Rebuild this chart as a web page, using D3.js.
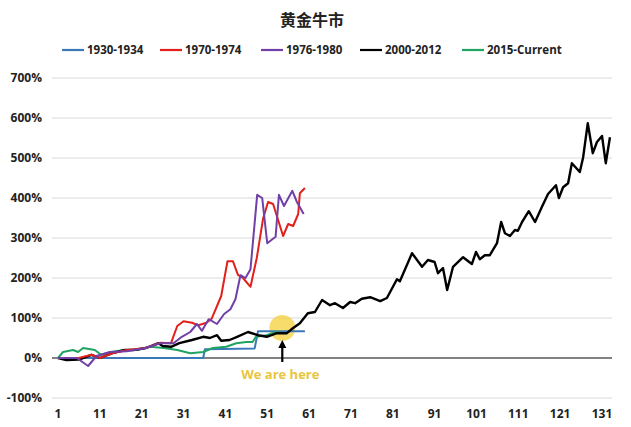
<!DOCTYPE html>
<html><head><meta charset="utf-8">
<script src="https://cdn.jsdelivr.net/npm/d3@7"></script>
<style>body{margin:0;background:#fff}svg{font-family:"Open Sans","Liberation Sans",sans-serif}</style>
</head><body><div id="chart"></div>
<script>
// data: x = month index, y = gain in %
const seriesNames = ["1930-1934", "1970-1974", "1976-1980", "2000-2012", "2015-Current"];
const seriesColors = ["#3b78b8", "#e3201b", "#7040a8", "#000000", "#1fa463"];

const blueX = [1, 35.7, 36.1, 48, 48.8, 60];
const blueY = [0, 0, 22, 24, 67, 67];

const redX = [1, 6, 9, 11, 14, 17.5, 22, 25.5, 28, 29.5, 31, 33, 34.5, 36.5, 37.7, 39, 40, 41.5, 42.8, 44, 45.2, 47, 48.5, 50, 51.2, 52.4, 54.8, 56, 57.2, 58.4, 58.8, 60];
const redY = [0, 0, 8, 0, 12, 20, 25, 38, 37, 80, 92, 88, 82, 88, 98, 130, 155, 242, 242, 208, 200, 178, 250, 348, 390, 385, 305, 335, 330, 360, 412, 425];

const purpleX = [1, 5.5, 8.2, 10.2, 13.4, 17.4, 22, 25.4, 28.6, 30.6, 32.6, 34.2, 35.4, 37, 39, 40.7, 42.2, 43.4, 44.6, 45.8, 47, 48.6, 49.8, 51, 53, 53.8, 55, 57, 58.1, 59.7];
const purpleY = [0, 0, -20, 5, 15, 17, 25, 37, 37, 53, 65, 85, 68, 97, 85, 110, 122, 147, 207, 200, 222, 408, 400, 287, 303, 408, 380, 418, 390, 360];

const blackX = [1, 3, 6, 9, 11, 14, 17, 19, 22, 25, 26, 28, 30, 33, 35.7, 37.3, 39, 40, 42, 43.8, 46.4, 48.8, 50.9, 53.3, 55.7, 57.2, 58.8, 60.7, 62.4, 64.1, 66, 67.2, 69.1, 70.8, 72, 73.6, 75.6, 78, 79.6, 82, 82.7, 85.6, 88, 89.4, 91, 91.8, 93, 94, 95.4, 97.8, 99.9, 100.9, 101.8, 103, 104.2, 105.9, 106.9, 107.8, 109, 110.2, 110.9, 111.9, 113.5, 115, 116.6, 118.1, 120, 120.7, 121.7, 122.9, 123.8, 125.7, 126.5, 127.6, 128.8, 129.8, 131, 131.9, 132.9];
const blackY = [0, -5, -4, 8, 0, 12, 20, 20, 25, 37, 30, 28, 37, 45, 53, 50, 57, 43, 45, 53, 65, 57, 53, 62, 62, 75, 87, 112, 115, 145, 132, 137, 125, 140, 137, 148, 152, 142, 150, 197, 192, 262, 228, 245, 240, 212, 225, 170, 228, 252, 235, 265, 247, 257, 257, 287, 340, 312, 305, 320, 318, 340, 367, 340, 377, 410, 432, 400, 427, 437, 487, 465, 502, 587, 512, 540, 555, 487, 552];

const greenX = [1, 2.2, 4.6, 5.8, 7, 9.8, 11.3, 13.7, 16.8, 20, 23, 26.3, 29.5, 32.6, 35.7, 38, 41.2, 43.6, 46, 47.5, 48.3, 50.8, 53.2, 55];
const greenY = [0, 15, 20, 15, 25, 20, 8, 15, 20, 20, 28, 25, 20, 12, 15, 25, 28, 37, 40, 40, 53, 57, 65, 62];

const yTicks = [-100, 0, 100, 200, 300, 400, 500, 600, 700];
const xTicks = [1, 11, 21, 31, 41, 51, 61, 71, 81, 91, 101, 111, 121, 131];

const allX = [blueX, redX, purpleX, blackX, greenX];
const allY = [blueY, redY, purpleY, blackY, greenY];

const W = 631, H = 427;
const svg = d3.select("#chart").append("svg").attr("width", W).attr("height", H);

const x = d3.scaleLinear().domain([1, 131]).range([58, 602]);
const y = d3.scaleLinear().domain([-100, 700]).range([398, 78]);
const left = 52, right = 612;

// grid
svg.append("g").selectAll("line").data(yTicks.filter(t => t !== 0)).enter().append("line")
    .attr("x1", left).attr("x2", right)
    .attr("y1", d => y(d)).attr("y2", d => y(d))
    .attr("stroke", "#d9d9d9").attr("stroke-width", 1);
svg.append("line").attr("x1", left).attr("x2", right)
    .attr("y1", y(0)).attr("y2", y(0)).attr("stroke", "#595959").attr("stroke-width", 1.3);

// y labels
svg.append("g").selectAll("text").data(yTicks).enter().append("text")
    .attr("x", 42).attr("y", d => y(d) + 4)
    .attr("text-anchor", "end").attr("font-size", 12).attr("font-weight", "bold")
    .attr("fill", "#222").text(d => d + "%");

// x labels
svg.append("g").selectAll("text").data(xTicks).enter().append("text")
    .attr("x", d => x(d)).attr("y", 418)
    .attr("text-anchor", "middle").attr("font-size", 12).attr("font-weight", "bold")
    .attr("fill", "#222").text(d => d);

// highlight circle
svg.append("circle").attr("cx", x(54.6)).attr("cy", y(75)).attr("r", 13)
    .attr("fill", "#f5d03a").attr("opacity", 0.75);

// lines
const line = d3.line().x(d => x(d[0])).y(d => y(d[1]));
const order = [0, 4, 3, 1, 2];
order.forEach(i => {
    const pts = allX[i].map((v, k) => [v, allY[i][k]]);
    svg.append("path").attr("d", line(pts)).attr("fill", "none")
        .attr("stroke", seriesColors[i])
        .attr("stroke-width", i === 3 ? 2.4 : 2)
        .attr("stroke-linejoin", "round");
});

// arrow + note
const ax = x(54.6);
svg.append("line").attr("x1", ax).attr("x2", ax).attr("y1", 362).attr("y2", 346)
    .attr("stroke", "#000").attr("stroke-width", 2.2);
svg.append("path").attr("d", `M${ax - 4},${348} L${ax},${340} L${ax + 4},${348} Z`).attr("fill", "#000");
svg.append("text").attr("x", ax - 2).attr("y", 379).attr("text-anchor", "middle")
    .attr("font-size", 13).attr("font-weight", "bold").attr("fill", "#e9c53c").text("We are here");

// title
svg.append("text").attr("x", 312).attr("y", 26).attr("text-anchor", "middle")
    .attr("font-family", "Noto Sans CJK SC").attr("font-size", 16).attr("font-weight", "bold")
    .attr("fill", "#222").text("黄金牛市");

// legend
const legX = [62, 160, 261, 360, 462];
const leg = svg.append("g").selectAll("g").data(seriesNames).enter().append("g")
    .attr("transform", (d, i) => `translate(${legX[i]},50)`);
leg.append("line").attr("x1", 0).attr("x2", 22).attr("y1", 0).attr("y2", 0)
    .attr("stroke", (d, i) => seriesColors[i]).attr("stroke-width", 2.2);
leg.append("text").attr("x", 25).attr("y", 4).attr("font-size", 11.5).attr("font-weight", "bold")
    .attr("fill", "#222").text(d => d);
</script></body></html>
